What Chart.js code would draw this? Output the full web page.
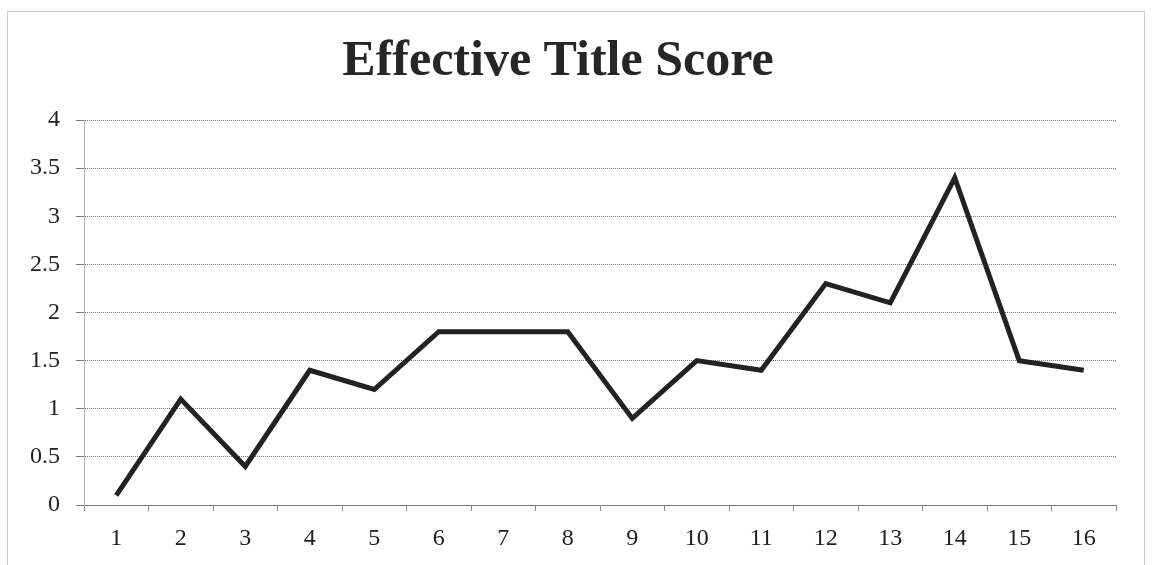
<!DOCTYPE html>
<html>
<head>
<meta charset="utf-8">
<title>Effective Title Score</title>
<script src="https://cdn.jsdelivr.net/npm/chart.js@4"></script>
<style>
  html, body { margin: 0; padding: 0; background: #fff; }
  #wrap { width: 1152px; height: 565px; position: relative; }
</style>
</head>
<body>
<div id="wrap"><canvas id="scoreChart"></canvas></div>
<script>
const categories = ['1', '2', '3', '4', '5', '6', '7', '8', '9', '10', '11', '12', '13', '14', '15', '16'];
const scores = [0.1, 1.1, 0.4, 1.4, 1.2, 1.8, 1.8, 1.8, 0.9, 1.5, 1.4, 2.3, 2.1, 3.4, 1.5, 1.4];
const yTicks = [0, 0.5, 1, 1.5, 2, 2.5, 3, 3.5, 4];

const serif = "'Liberation Serif', 'DejaVu Serif', serif";

// dotted frame around the whole chart
const framePlugin = {
  id: 'frame',
  beforeDraw(chart) {
    const ctx = chart.ctx;
    ctx.save();
    ctx.strokeStyle = '#9a9a9a';
    ctx.lineWidth = 1;
    ctx.setLineDash([1, 1]);
    ctx.strokeRect(7.5, 11.5, 1137, 600);
    ctx.restore();
  }
};

const ctx = document.getElementById('scoreChart').getContext('2d');
new Chart(ctx, {
  type: 'line',
  data: {
    labels: categories,
    datasets: [{
      label: 'Effective Title Score',
      data: scores,
      borderColor: '#222',
      borderWidth: 5,
      borderJoinStyle: 'miter',
      pointRadius: 0,
      tension: 0,
      fill: false
    }]
  },
  options: {
    responsive: true,
    maintainAspectRatio: false,
    animation: false,
    layout: { padding: { top: 0, right: 36, bottom: 0, left: 0 } },
    plugins: {
      legend: { display: false },
      tooltip: { enabled: false },
      title: {
        display: true,
        text: 'Effective Title Score',
        color: '#262626',
        font: { family: serif, size: 50, weight: 'bold' },
        padding: { top: 32, bottom: 28 }
      }
    },
    scales: {
      x: {
        offset: true,
        grid: {
          offset: true,
          drawOnChartArea: false,
          drawTicks: true,
          tickLength: 6,
          color: '#8a8a8a'
        },
        border: { color: '#7a7a7a', width: 1 },
        ticks: {
          color: '#222',
          font: { family: serif, size: 24 },
          padding: 13
        },
        afterFit(scale) { scale.height = 60; }
      },
      y: {
        min: 0,
        max: 4,
        afterBuildTicks(scale) { scale.ticks = yTicks.map(v => ({ value: v })); },
        grid: {
          color: '#7a7a7a',
          lineWidth: 1,
          tickLength: 8
        },
        border: { color: '#b0b0b0', width: 1, dash: [1, 1] },
        ticks: {
          color: '#222',
          font: { family: serif, size: 24 },
          padding: 16,
          callback: v => String(v)
        },
        afterFit(scale) { scale.width = 84; }
      }
    }
  },
  plugins: [framePlugin]
});
</script>
</body>
</html>
